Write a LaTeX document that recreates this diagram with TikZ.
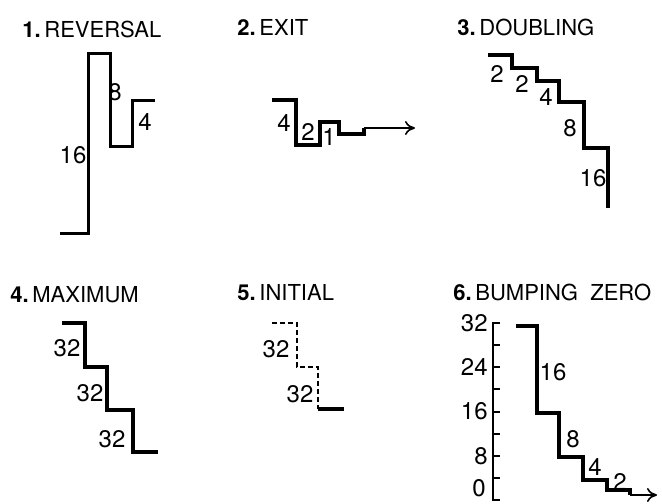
\documentclass[tikz,border=0pt]{standalone}
\usepackage{fontspec}
\setmainfont{TeX Gyre Heros}
\usetikzlibrary{arrows.meta}

\tikzset{
  escalon/.style={line width=1.9pt, line join=miter},
  titulo/.style={anchor=base west, font=\fontsize{11}{13}\selectfont, inner sep=0pt},
  valor/.style={font=\fontsize{12}{14}\selectfont, inner sep=0pt},
}
\newcommand{\paso}[1]{\textbf{#1.}\,}

\begin{document}
\begin{tikzpicture}[>={To[length=5pt,width=7pt]}, x=0.5pt, y=-0.5pt]
    \useasboundingbox (0,0) rectangle (662,503);

    % 1. Reversal
    \node[titulo] (t1) at (22,37) {\paso{1}REVERSAL};
    \draw[escalon, line width=1.5pt] (60,233) -- (88,233) -- (88,53) -- (110,53) -- (110,146)
        -- (132,146) -- (132,100) -- (155,100);
    \node[valor] (r16) at (73,155) {16};
    \node[valor] (r8) at (115,92) {8};
    \node[valor] (r4) at (145,122) {4};

    % 2. Exit
    \node[titulo] (t2) at (237,35) {\paso{2}EXIT};
    \draw[escalon] (272,100) -- (296,100) -- (296,145) -- (320,145) -- (320,122) -- (339,122)
        -- (339,134) -- (364,134) -- (364,128);
    \draw[->, line width=0.8pt] (364,128) -- (415,128);
    \node[valor] (e4) at (284,123) {4};
    \node[valor] (e2) at (308,132) {2};
    \node[valor] (e1) at (329,137) {1};

    % 3. Doubling
    \node[titulo] (t3) at (457,35) {\paso{3}DOUBLING};
    \draw[escalon] (488,55) -- (512,55) -- (512,68) -- (537,68) -- (537,81) -- (559,81)
        -- (559,102) -- (584,102) -- (584,148) -- (608,148) -- (608,208);
    \node[valor] (d2a) at (497,74) {2};
    \node[valor] (d2b) at (522,84) {2};
    \node[valor] (d4) at (546,97) {4};
    \node[valor] (d8) at (570,128) {8};
    \node[valor] (d16) at (593,178) {16};

    % 4. Maximum
    \node[titulo] (t4) at (10,302) {\paso{4}MAXIMUM};
    \draw[escalon] (62,323) -- (85,323) -- (85,367) -- (107,367) -- (107,410) -- (133,410)
        -- (133,452) -- (158,452);
    \node[valor] (m1) at (67,348) {32};
    \node[valor] (m2) at (90,393) {32};
    \node[valor] (m3) at (112,439) {32};

    % 5. Initial
    \node[titulo] (t5) at (237,300) {\paso{5}INITIAL};
    \draw[line width=1.1pt, dash pattern=on 2.5pt off 1.5pt] (272,323) -- (297,323) -- (297,367)
        -- (318,367) -- (318,409);
    \draw[escalon, line width=2.2pt] (318,409) -- (344,409);
    \node[valor] (i1) at (276,349) {32};
    \node[valor] (i2) at (300,394) {32};

    % 6. Bumping zero: eje de 0 a 32
    \node[titulo] (t6) at (453,300) {\paso{6}BUMPING\ \ ZERO};
    \draw[line width=1pt] (500,323) -- (493,323) -- (493,500) -- (500,500);
    \foreach \v in {4,8,...,28}
        \draw[line width=1pt] (493,{500-5.53*\v}) -- (500,{500-5.53*\v});
    \foreach \v in {32,24,16,8}
        \node[valor, anchor=east] (eje\v) at (488,{500-5.53*\v}) {\v};
    \node[valor, anchor=south east] (eje0) at (486,497) {0};
    \draw[escalon, line width=2.2pt] (516,326) -- (537,326) -- (537,413) -- (559,413) -- (559,457)
        -- (583,457) -- (583,480) -- (607,480) -- (607,490) -- (630,490) -- (630,495);
    \draw[->, line width=0.8pt] (630,495) -- (657,495);
    \node[valor] (b16) at (553,372) {16};
    \node[valor] (b8) at (573,439) {8};
    \node[valor] (b4) at (595,467) {4};
    \node[valor] (b2) at (620,482) {2};
\end{tikzpicture}
\end{document}
